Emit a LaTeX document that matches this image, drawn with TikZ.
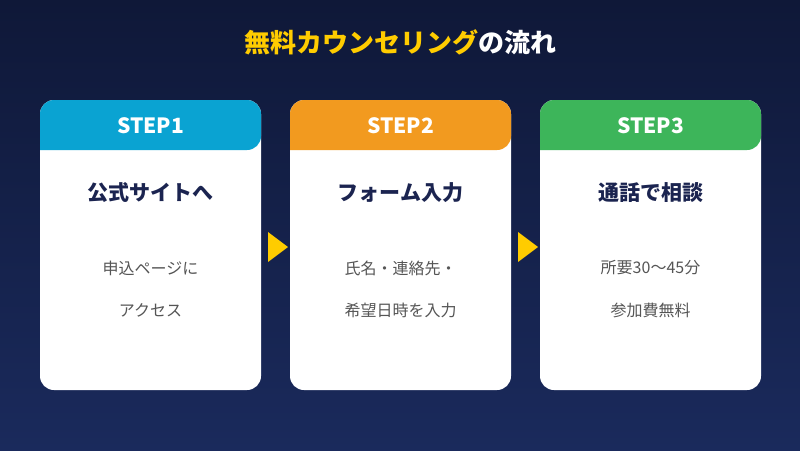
\documentclass[tikz,border=0pt]{standalone}
\usepackage{fontspec}
\setmainfont{Noto Sans CJK JP}
\newfontfamily\jpb{Noto Sans CJK JP}[FakeBold=1.5]
\definecolor{bgtop}{HTML}{0F1838}
\definecolor{bgbot}{HTML}{1A2A5C}
\definecolor{ttl}{HTML}{FFCC00}
\definecolor{navy}{HTML}{1B2450}
\definecolor{gr}{HTML}{555555}
\definecolor{c1}{HTML}{0AA3D2}
\definecolor{c2}{HTML}{F29A1F}
\definecolor{c3}{HTML}{3DB55A}
\begin{document}
\begin{tikzpicture}[x=1pt,y=-1pt,
  card/.style={fill=white,rounded corners=14pt},
  head/.style={font=\fontsize{21}{24}\selectfont\bfseries, text=white},
  main/.style={font=\fontsize{21}{24}\selectfont\bfseries, text=navy},
  sub/.style={font=\fontsize{16}{20}\selectfont, text=gr},
  arr/.style={fill=ttl}]
\shade[top color=bgtop,bottom color=bgbot] (0,0) rectangle (800,450);
\useasboundingbox (0,0) rectangle (800,450);
\node[font=\fontsize{26}{30}\selectfont\bfseries] (title) at (400,42) {\textcolor{ttl}{無料カウンセリング}\textcolor{white}{の流れ}};
\foreach \i/\x/\c/\m/\a/\b in {1/40/c1/公式サイトへ/申込ページに/アクセス, 2/290/c2/フォーム入力/氏名・連絡先・/希望日時を入力, 3/540/c3/通話で相談/所要30〜45分/参加費無料}{
  \fill[card] (\x,100) rectangle ++(221,290);
  \fill[\c,rounded corners=14pt] (\x,150) -- (\x,100) -- (\x+221,100) -- (\x+221,150) [sharp corners] -- cycle;
  \node[head] (h\i) at (\x+110.5,126) {STEP\i};
  \node[main] (m\i) at (\x+110.5,193) {\m};
  \node[sub] (s\i) at (\x+110.5,268) {\a};
  \node[sub] (t\i) at (\x+110.5,310) {\b};
}
\fill[arr] (268,232) -- (288,247) -- (268,262) -- cycle;
\fill[arr] (518,232) -- (538,247) -- (518,262) -- cycle;
\end{tikzpicture}
\end{document}
